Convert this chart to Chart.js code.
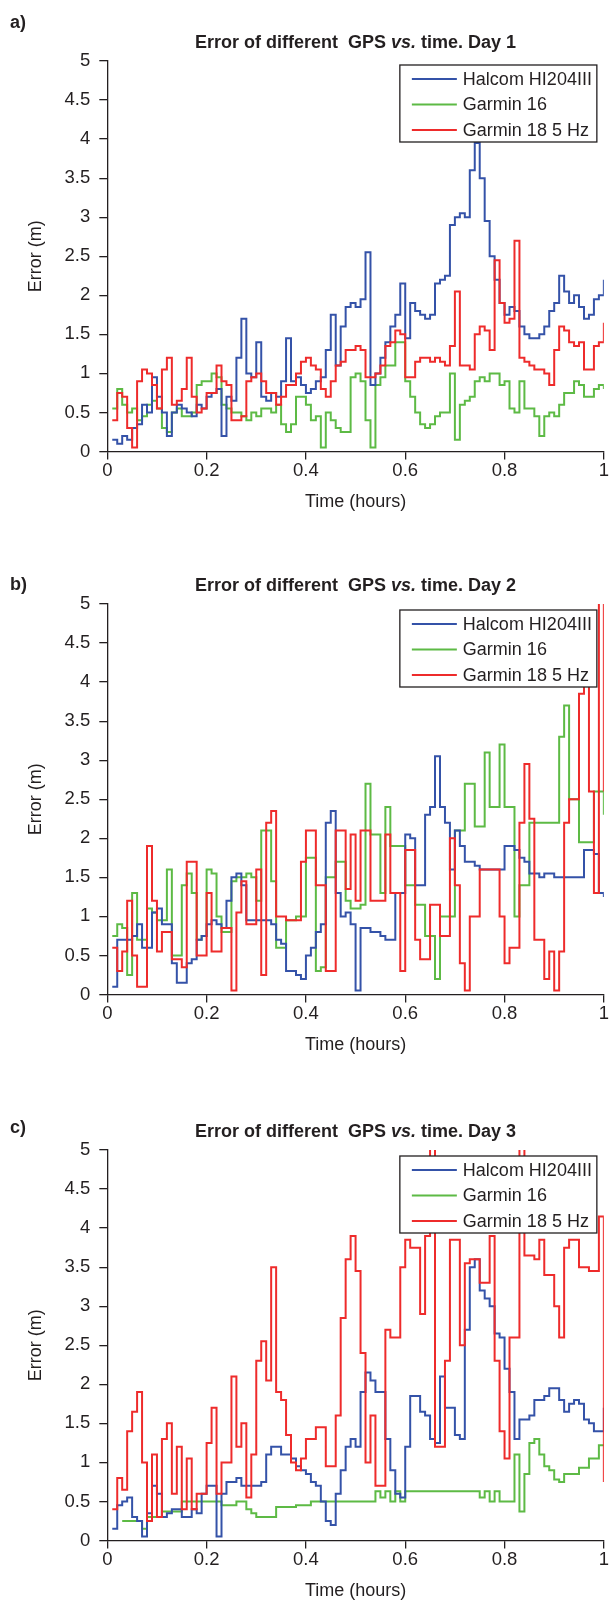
<!DOCTYPE html>
<html><head><meta charset="utf-8">
<script src="https://cdn.jsdelivr.net/npm/chart.js@4.4.1/dist/chart.umd.min.js"></script>
<style>
html,body{margin:0;padding:0;background:#fff;}
body{width:609px;height:1602px;position:relative;overflow:hidden;}
canvas{position:absolute;left:0;}
</style></head><body>
<canvas id="cA" width="609" height="543" style="top:0px"></canvas>
<canvas id="cB" width="609" height="546" style="top:543px"></canvas>
<canvas id="cC" width="609" height="514" style="top:1089px"></canvas>
<script>
// ---- data (time in hours, error in metres) ----
const timeHours = [
0.01,0.02,0.03,0.04,0.05,0.06,0.07,0.08,0.09,0.10,
0.11,0.12,0.13,0.14,0.15,0.16,0.17,0.18,0.19,0.20,
0.21,0.22,0.23,0.24,0.25,0.26,0.27,0.28,0.29,0.30,
0.31,0.32,0.33,0.34,0.35,0.36,0.37,0.38,0.39,0.40,
0.41,0.42,0.43,0.44,0.45,0.46,0.47,0.48,0.49,0.50,
0.51,0.52,0.53,0.54,0.55,0.56,0.57,0.58,0.59,0.60,
0.61,0.62,0.63,0.64,0.65,0.66,0.67,0.68,0.69,0.70,
0.71,0.72,0.73,0.74,0.75,0.76,0.77,0.78,0.79,0.80,
0.81,0.82,0.83,0.84,0.85,0.86,0.87,0.88,0.89,0.90,
0.91,0.92,0.93,0.94,0.95,0.96,0.97,0.98,0.99,1.00];

const seriesNames = ['Halcom HI204III', 'Garmin 16', 'Garmin 18 5 Hz'];

// Day 1
const halcomDay1 = [
0.15,0.1,0.2,0.15,0.3,0.35,0.6,0.5,0.95,0.7,
0.5,0.2,0.5,0.6,0.55,0.5,0.45,0.6,0.55,0.7,
0.75,0.8,0.2,0.7,0.65,1.2,1.7,1.0,0.95,1.4,
0.7,0.65,0.75,0.7,0.9,1.45,0.9,0.95,0.85,0.75,
0.8,0.9,0.95,1.3,1.75,1.1,1.6,1.85,1.9,1.85,
1.95,2.55,0.85,1.0,1.2,1.4,1.6,1.75,2.15,1.45,
1.9,1.8,1.75,1.7,1.75,2.15,2.2,2.25,2.9,3.0,
3.05,3.0,3.6,3.95,3.5,2.95,2.5,2.2,1.9,1.75,
1.85,1.8,1.6,1.5,1.45,1.45,1.5,1.6,1.8,1.9,
2.25,2.05,1.9,2.0,1.85,1.7,1.75,1.95,2.0,2.2];
const garmin16Day1 = [
0.55,0.8,0.6,0.5,0.55,0.4,0.45,0.6,0.65,0.55,
0.3,0.25,0.5,0.55,0.45,0.45,0.5,0.85,0.9,0.9,
1.0,0.95,0.6,0.55,0.5,0.5,0.45,0.4,0.5,0.45,
0.55,0.55,0.5,0.6,0.35,0.25,0.35,0.7,0.7,0.6,
0.4,0.45,0.05,0.5,0.4,0.3,0.25,0.25,0.95,1.0,
0.9,0.4,0.05,0.85,0.95,1.1,1.1,1.4,1.4,0.9,
0.7,0.5,0.35,0.3,0.35,0.45,0.5,0.5,1.0,0.15,
0.6,0.65,0.7,0.9,0.95,0.9,1.0,1.0,0.85,0.9,
0.55,0.5,0.9,0.55,0.55,0.45,0.2,0.45,0.5,0.45,
0.6,0.75,0.75,0.9,0.85,0.7,0.7,0.8,0.85,0.8];
const garmin18Day1 = [
0.4,0.75,0.7,0.3,0.05,0.9,1.05,1.0,0.85,0.55,
1.05,1.2,0.6,0.65,0.8,1.2,0.7,0.5,0.55,0.75,
0.75,1.1,0.9,0.85,0.4,0.4,0.45,0.9,0.95,1.0,
0.9,0.75,0.75,0.6,0.7,0.85,0.85,1.0,1.15,1.2,
1.1,1.05,0.8,0.7,0.9,1.1,1.15,1.3,1.3,1.35,
1.3,0.95,0.95,1.0,1.1,1.35,1.4,1.55,1.5,0.95,
0.95,1.15,1.2,1.2,1.15,1.2,1.15,1.1,1.35,2.05,
1.1,1.1,1.05,1.5,1.6,1.55,1.3,2.45,1.9,1.65,
1.7,2.7,1.2,1.15,1.1,1.05,1.05,1.0,0.85,1.3,
1.6,1.55,1.4,1.35,1.4,1.05,1.05,1.35,1.4,1.65];

// Day 2
const halcomDay2 = [
0.1,0.7,0.7,0.7,0.75,0.9,0.6,0.6,1.05,1.1,
0.9,0.9,0.4,0.15,0.15,0.4,0.45,0.7,0.75,0.9,
0.95,0.9,0.85,1.2,1.5,1.55,1.4,0.95,0.95,0.95,
0.95,0.95,0.9,0.7,0.65,0.3,0.3,0.25,0.2,0.5,
0.6,0.8,0.9,2.2,2.35,1.3,1.0,1.05,0.9,0.05,
0.85,0.85,0.8,0.8,0.75,0.7,0.7,1.3,1.3,2.05,
2.0,1.4,1.4,2.3,2.4,3.05,2.4,2.2,1.6,2.1,
1.9,1.7,1.7,1.65,1.6,1.6,1.6,1.6,1.6,1.9,
1.9,1.85,1.75,1.7,1.55,1.55,1.5,1.55,1.55,1.5,
1.5,1.5,1.5,1.5,1.5,1.85,1.85,1.8,1.3,1.25];
const garmin16Day2 = [
0.75,0.9,0.85,0.25,1.3,0.7,0.7,1.1,1.05,0.95,
0.95,1.6,0.5,0.5,1.4,1.55,1.3,0.7,0.75,1.6,
1.55,1.0,0.8,0.8,1.45,1.5,1.5,1.55,1.5,1.2,
2.1,2.1,1.45,0.6,0.6,0.95,0.95,1.0,1.0,1.75,
1.75,0.3,0.35,1.5,1.5,1.7,1.7,1.2,1.1,1.1,
1.15,2.7,2.05,2.05,1.3,2.4,1.9,1.9,1.9,1.4,
1.4,1.15,1.15,0.75,0.75,0.2,1.0,1.0,1.0,2.1,
2.1,2.7,2.7,2.15,2.15,3.1,2.4,2.4,3.2,2.4,
2.4,1.0,1.4,1.4,2.2,2.2,2.2,2.2,2.2,2.2,
3.3,3.7,2.5,2.5,1.95,1.95,1.95,2.6,2.6,2.3];
const garmin18Day2 = [
0.6,0.3,0.55,1.2,0.5,0.1,0.1,1.9,1.2,0.55,
0.8,0.8,0.45,0.45,0.35,1.7,1.7,0.5,0.5,1.3,
0.55,0.55,0.85,0.85,0.05,1.05,1.45,0.9,0.9,1.6,
0.25,2.2,2.35,1.0,1.0,0.95,0.95,0.95,1.7,2.1,
2.1,1.4,1.4,0.3,0.3,2.1,2.1,1.35,2.05,1.2,
2.1,2.1,1.2,1.2,1.2,2.05,1.3,1.3,0.3,1.85,
1.85,0.7,0.45,0.45,1.15,1.15,0.75,0.75,2.0,1.4,
0.4,0.05,1.0,1.0,1.6,1.6,1.6,1.6,1.0,0.4,
0.6,0.6,2.2,2.95,2.25,0.7,0.7,0.2,0.55,0.05,
0.55,2.2,2.5,2.5,3.85,3.95,2.6,1.3,5.2,2.6];

// Day 3
const halcomDay3 = [
0.15,0.45,0.5,0.55,0.3,0.25,0.05,0.35,0.7,0.6,
0.3,0.35,0.4,0.4,0.3,0.3,0.4,0.35,0.6,0.7,
0.7,0.05,0.6,0.75,0.75,0.8,0.7,0.7,0.7,0.7,
0.75,1.1,1.2,1.2,1.1,1.1,1.05,0.95,0.9,0.85,
0.75,0.7,0.5,0.25,0.2,0.6,0.9,1.2,1.3,1.2,
1.9,2.15,2.05,1.9,1.9,1.3,0.9,0.6,0.55,1.2,
1.85,1.85,1.65,1.6,1.3,1.25,2.1,1.7,1.7,1.35,
1.3,2.7,3.5,3.6,3.2,3.1,3.0,2.65,2.6,2.2,
1.9,1.3,1.55,1.55,1.6,1.8,1.8,1.85,1.95,1.95,
1.8,1.65,1.75,1.8,1.75,1.55,1.5,1.4,1.4,1.7];
const garmin16Day3 = [
null,null,0.25,0.25,0.25,0.25,0.15,0.3,0.3,0.3,
0.37,0.37,0.37,0.37,0.5,0.5,0.5,0.5,0.5,0.5,
0.5,0.5,0.45,0.45,0.45,0.5,0.5,0.4,0.35,0.3,
0.3,0.3,0.3,0.43,0.43,0.43,0.43,0.45,0.45,0.45,
0.5,0.5,0.5,0.5,0.5,0.5,0.5,0.5,0.5,0.5,
0.5,0.5,0.5,0.63,0.55,0.63,0.5,0.63,0.5,0.63,
0.63,0.63,0.63,0.63,0.63,0.63,0.63,0.63,0.63,0.63,
0.63,0.63,0.63,0.63,0.55,0.63,0.5,0.63,0.5,0.5,
0.5,1.1,0.37,0.85,1.25,1.3,1.1,0.95,0.9,0.78,
0.75,0.85,0.85,0.85,0.93,0.93,1.05,1.05,1.22,1.22];
const garmin18Day3 = [
0.4,0.8,0.65,1.4,1.65,1.9,1.0,0.25,1.1,0.3,
1.3,1.5,0.6,1.2,0.4,1.05,0.4,0.6,0.6,1.25,
1.7,0.6,1.0,1.0,2.1,1.2,1.5,0.55,1.1,2.3,
2.55,2.05,3.5,1.9,1.8,1.35,1.0,0.9,1.05,1.3,
1.3,1.45,1.45,0.95,0.95,1.6,2.85,3.6,3.9,3.45,
2.4,1.0,1.6,0.7,0.7,2.7,2.6,2.6,3.5,3.85,
3.75,3.75,2.9,3.9,5.2,1.2,1.2,2.3,3.85,3.85,
2.5,3.55,3.6,3.6,3.3,3.3,3.9,2.3,1.4,1.05,
2.6,2.6,5.2,3.65,3.65,3.6,3.85,3.4,3.4,3.0,
2.6,3.75,3.85,3.85,3.5,3.5,3.45,3.45,4.15,0.75];

// ---- styling ----
const FONT = "'Liberation Sans', Arial, Helvetica, sans-serif";
const INK = '#231f20';
const COLORS = ['#3452a8', '#5dba45', '#ee2b2b'];

function pts(vals){ return timeHours.map((t,i)=>({x:t, y:vals[i]})); }
function fmtTick(v){ return String(Math.round(v * 100) / 100); }

const panelPlugin = {
  id: 'panel',
  afterDraw(chart, args, o){
    const ctx = chart.ctx, a = chart.chartArea;
    ctx.save();
    ctx.fillStyle = INK;
    ctx.textBaseline = 'middle';
    ctx.textAlign = 'left';
    ctx.font = 'bold 18px ' + FONT;
    ctx.fillText(o.label, 10, o.labelY);
    const parts = [['bold 18px ' + FONT, 'Error of different  GPS '],
                   ['italic bold 18px ' + FONT, 'vs.'],
                   ['bold 18px ' + FONT, ' time. Day ' + o.day]];
    let w = 0;
    parts.forEach(p=>{ ctx.font = p[0]; w += ctx.measureText(p[1]).width; });
    let x = (a.left + a.right)/2 - w/2;
    parts.forEach(p=>{ ctx.font = p[0]; ctx.fillText(p[1], x, a.top - 18); x += ctx.measureText(p[1]).width; });
    // legend
    const bx = a.right - 204, by = a.top + o.legendDy, bw = 197, bh = 77;
    ctx.fillStyle = '#fff';
    ctx.fillRect(bx, by, bw, bh);
    ctx.strokeStyle = INK; ctx.lineWidth = 1.3;
    ctx.strokeRect(bx, by, bw, bh);
    ctx.font = '18px ' + FONT;
    seriesNames.forEach((n, i)=>{
      const yy = by + 14 + i*25.5;
      ctx.strokeStyle = COLORS[i]; ctx.lineWidth = 2;
      ctx.beginPath(); ctx.moveTo(bx + 12, yy); ctx.lineTo(bx + 57, yy); ctx.stroke();
      ctx.fillStyle = INK;
      ctx.fillText(n, bx + 63, yy + 1);
    });
    ctx.restore();
  }
};

function makeChart(id, day, vals, label, labelY, legendDy, padBottom){
  const orders = [1, 2, 0];
  new Chart(document.getElementById(id), {
    type: 'line',
    data: {
      datasets: vals.map((v, i)=>({
        label: seriesNames[i],
        data: pts(v),
        borderColor: COLORS[i],
        backgroundColor: COLORS[i],
        borderWidth: 2,
        pointRadius: 0,
        stepped: true,
        fill: false,
        order: orders[i],
        spanGaps: false
      }))
    },
    options: {
      responsive: false,
      animation: false,
      devicePixelRatio: 1,
      layout: { padding: { top: 61, right: 5, left: 0, bottom: padBottom } },
      plugins: {
        legend: { display: false },
        tooltip: { enabled: false },
        panel: { label: label, labelY: labelY, day: day, legendDy: legendDy }
      },
      scales: {
        x: {
          type: 'linear', min: 0, max: 1,
          ticks: { stepSize: 0.2, padding: 0, color: INK, font: { family: FONT, size: 18.5 }, callback: fmtTick },
          grid: { drawOnChartArea: false, drawTicks: true, tickLength: 8, color: INK, lineWidth: 1.3 },
          border: { display: true, color: INK, width: 1.3 },
          title: { display: true, text: 'Time (hours)', color: INK, font: { family: FONT, size: 18 }, padding: { top: 0, bottom: 1 } },
          afterFit(s){ s.height = 62; }
        },
        y: {
          min: 0, max: 5,
          ticks: { stepSize: 0.5, padding: 9, color: INK, font: { family: FONT, size: 18.5 }, callback: fmtTick },
          grid: { drawOnChartArea: false, drawTicks: true, tickLength: 8, color: INK, lineWidth: 1.3 },
          border: { display: true, color: INK, width: 1.3 },
          title: { display: true, text: 'Error (m)', color: INK, font: { family: FONT, size: 18 }, padding: { top: 25, bottom: 0 } },
          afterFit(s){ s.width = 107.3; }
        }
      }
    },
    plugins: [panelPlugin]
  });
}

makeChart('cA', 1, [halcomDay1, garmin16Day1, garmin18Day1], 'a)', 23, 4, 29.5);
makeChart('cB', 2, [halcomDay2, garmin16Day2, garmin18Day2], 'b)', 42, 6, 32.5);
makeChart('cC', 3, [halcomDay3, garmin16Day3, garmin18Day3], 'c)', 39, 6, 0.5);
</script>
</body></html>
